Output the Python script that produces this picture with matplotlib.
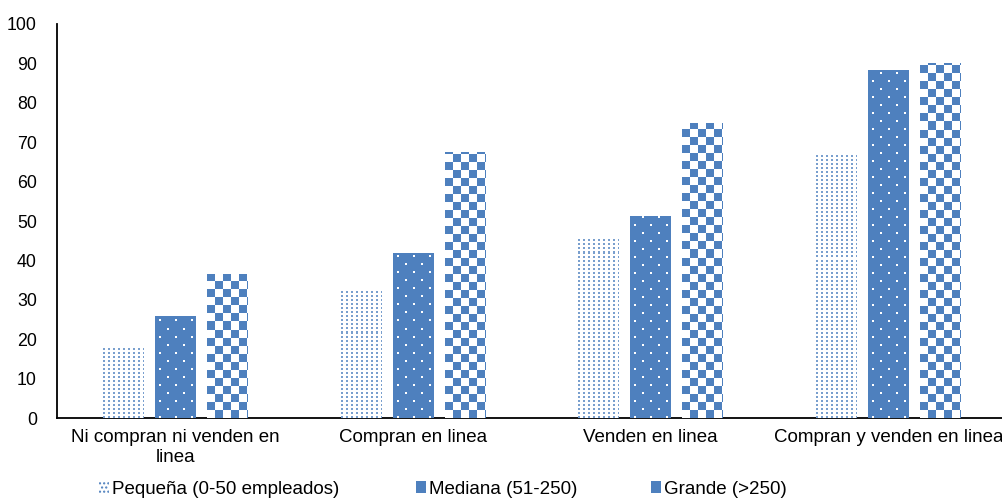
import matplotlib
matplotlib.use("Agg")
import matplotlib.pyplot as plt
import numpy as np
from matplotlib.patches import Patch

plt.rcParams['font.family'] = ['Liberation Sans', 'DejaVu Sans']
plt.rcParams['hatch.linewidth'] = 1.0

categories = ["Ni compran ni venden en\nlinea", "Compran en linea", "Venden en linea", "Compran y venden en linea"]
series_names = ["Pequeña (0-50 empleados)", "Mediana (51-250)", "Grande (>250)"]
pequena = [18, 32.8, 45.8, 67.3]
mediana = [26, 41.9, 51.2, 88.3]
grande = [36.6, 67.4, 74.9, 90.2]

BLUE = '#4E80BE'
W_PX, H_PX = 1002, 498
AX_L, AX_R, AX_B, AX_T = 57, 1007, 418, 24
fig = plt.figure(figsize=(W_PX / 100, H_PX / 100), dpi=100)
ax = fig.add_axes([AX_L / W_PX, 1 - AX_B / H_PX, (AX_R - AX_L) / W_PX, (AX_B - AX_T) / H_PX])

n = len(categories)
x = np.arange(n)
px_x = (AX_R - AX_L) / n        # pixels per x unit
px_y = (AX_B - AX_T) / 100.0    # pixels per y unit
w = 41 / px_x
off = 52 / px_x

b1 = ax.bar(x - off, pequena, w, facecolor='white', linewidth=0)
b2 = ax.bar(x, mediana, w, facecolor=BLUE, linewidth=0)
b3 = ax.bar(x + off, grande, w, facecolor='white', linewidth=0)


def pat_small(r, c):
    rr = r % 4
    return ((rr < 2) & ((c % 5) < 2)).astype(float) * 0.75


def pat_medium(r, c):
    rr = r % 16
    cc = c % 16
    d1 = (rr < 2) & (((cc - 4) % 16) < 2)
    d2 = ((rr - 8) % 16 < 2) & (((cc - 12) % 16) < 2)
    return np.where(d1 | d2, 0.0, 1.0)


def pat_large(r, c):
    return (((r // 8) + (c // 8)) % 2).astype(float)


cmap = matplotlib.colors.LinearSegmentedColormap.from_list('wb', ['white', BLUE])


def fill(bars, func):
    for rect in bars:
        x0 = rect.get_x()
        h = rect.get_height()
        wd = rect.get_width()
        ncols = int(np.ceil(wd * px_x)) + 1
        nrows = int(np.ceil(h * px_y)) + 1
        rr, cc = np.mgrid[0:nrows, 0:ncols]
        img = func(rr, cc)
        im = ax.imshow(img, cmap=cmap, vmin=0, vmax=1,
                       extent=(x0, x0 + ncols / px_x, 0, nrows / px_y),
                       origin='lower', interpolation='nearest', aspect='auto', zorder=3)
        im.set_clip_path(rect)


fill(b1, pat_small)
fill(b2, pat_medium)
fill(b3, pat_large)

ax.set_xlim(-0.5, n - 0.5)
ax.set_ylim(0, 100)
ax.set_yticks(np.arange(0, 101, 10))
ax.set_xticks(x)
ax.set_xticklabels(categories, fontsize=13.5)
ax.tick_params(axis='y', labelsize=12.8, length=0, pad=14.5)
ax.tick_params(axis='x', length=0, pad=8)
for s in ['top', 'right']:
    ax.spines[s].set_visible(False)
ax.spines['left'].set_linewidth(1.3)
ax.spines['bottom'].set_linewidth(1.3)

handles = [
    Patch(facecolor='white', edgecolor=BLUE, hatch='....', linewidth=0),
    Patch(facecolor=BLUE, edgecolor='white', linewidth=0),
    Patch(facecolor=BLUE, edgecolor='white', linewidth=0),
]
xs = [99, 416, 651]
for hnd, name, xp in zip(handles, series_names, xs):
    fig.legend([hnd], [name], loc='center left', bbox_to_anchor=(xp / W_PX, 1 - 489 / H_PX),
               frameon=False, fontsize=13.5, handlelength=0.55, handleheight=0.55,
               handletextpad=0.15, borderaxespad=0, borderpad=0)

fig.savefig('out.png', dpi=100)
